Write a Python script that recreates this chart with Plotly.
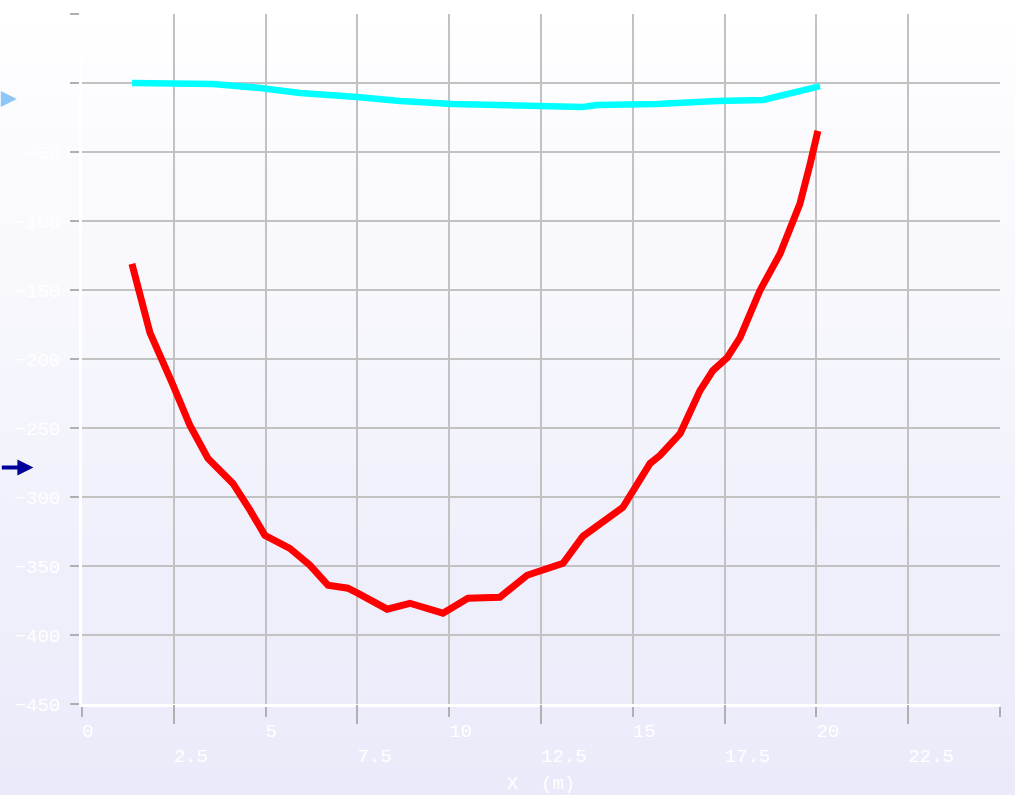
import plotly.graph_objects as go

# ---- data ----
red_x = [1.36, 1.85, 2.45, 2.94, 3.43, 4.11, 4.58, 4.98, 5.66, 6.21, 6.70, 7.24, 7.52, 7.90,
         8.31, 8.93, 9.83, 10.51, 10.92, 11.38, 12.12, 12.55, 13.10, 13.64, 14.11, 14.73,
         15.47, 15.74, 16.29, 16.83, 17.18, 17.57, 17.92, 18.46, 19.01, 19.55, 19.83, 20.04]
red_y = [-131.0, -180.9, -217.1, -248.2, -272.1, -290.2, -309.7, -327.8, -337.2, -349.5,
         -364.0, -366.1, -369.8, -375.5, -381.3, -377.0, -384.2, -373.4, -373.4, -372.7,
         -356.7, -352.4, -348.0, -328.5, -319.1, -307.5, -275.7, -269.9, -254.0, -222.9,
         -208.4, -199.0, -184.5, -150.5, -123.7, -87.6, -58.6, -34.7]

cyan_x = [1.36, 2.45, 3.57, 4.85, 5.94, 7.49, 8.66, 10.10, 11.74, 13.64, 14.02, 15.66,
          17.29, 18.55, 20.10]
cyan_y = [0.0, -0.7, -0.7, -3.6, -7.2, -10.1, -13.0, -15.2, -15.9, -17.4, -15.9, -15.2,
          -13.0, -12.3, -2.2]

x_ticks = [0, 2.5, 5, 7.5, 10, 12.5, 15, 17.5, 20, 22.5, 25]
x_tick_labels = ["0", "2.5", "5", "7.5", "10", "12.5", "15", "17.5", "20", "22.5", "25"]
y_ticks = [50, 0, -50, -100, -150, -200, -250, -300, -350, -400, -450]
arrow_levels = [-11.6, -278.6]
arrow_colors = ["#8ec6f8", "#00009a"]

NB = "\u00a0"
def left_aligned(lbl, second_row):
    txt = NB * len(lbl) + lbl
    return ("<br>" + txt) if second_row else txt

x_text = [left_aligned(l, i % 2 == 1) for i, l in enumerate(x_tick_labels)]

FONT = "Liberation Mono, Courier New, monospace"

fig = go.Figure()
fig.add_trace(go.Scatter(x=cyan_x, y=cyan_y, mode="lines",
                         line=dict(color="#00ffff", width=6.5), showlegend=False,
                         hoverinfo="skip"))
fig.add_trace(go.Scatter(x=red_x, y=red_y, mode="lines",
                         line=dict(color="#ff0000", width=7), showlegend=False,
                         hoverinfo="skip"))
fig.add_trace(go.Scatter(x=[], y=[], xaxis="x2", showlegend=False))

# background gradient bands
n = 24
top = (255, 255, 255)
bot = (234, 234, 250)
shapes = []
for i in range(n):
    t = i / (n - 1)
    c = tuple(round(top[k] + (bot[k] - top[k]) * t) for k in range(3))
    y1 = 1.03 - i * (1.17 / n)
    y0 = y1 - 1.17 / n - 0.002
    shapes.append(dict(type="rect", xref="paper", yref="paper",
                       x0=-0.1, x1=1.02, y0=y0, y1=y1,
                       fillcolor="rgb(%d,%d,%d)" % c, line=dict(width=0),
                       layer="below"))

annotations = [
    dict(x=-0.071, y=arrow_levels[0], xref="paper", yref="y", text="",
         showarrow=True, arrowhead=2, arrowsize=0.8, arrowwidth=4,
         arrowcolor=arrow_colors[0], ax=-19, ay=0),
    dict(x=-0.053, y=arrow_levels[1], xref="paper", yref="y", text="",
         showarrow=True, arrowhead=2, arrowsize=0.8, arrowwidth=4,
         arrowcolor=arrow_colors[1], ax=-33, ay=0),
]

fig.update_layout(
    width=1015, height=795,
    margin=dict(l=82, r=15, t=14, b=91, autoexpand=False),
    paper_bgcolor="#f6f6fd",
    plot_bgcolor="rgba(0,0,0,0)",
    shapes=shapes,
    annotations=annotations,
    xaxis=dict(range=[0, 25], tickvals=x_ticks, ticktext=x_text, automargin=False,
               showgrid=True, gridcolor="#c2c2c2", gridwidth=2,
               zeroline=False, showline=True, linecolor="#ffffff", linewidth=3,
               ticks="outside", ticklen=10, tickwidth=2, tickcolor="#b0b0b0",
               ticklabelstandoff=-3,
               tickfont=dict(family=FONT, size=19, color="#ffffff"),
               tickangle=0,
               title=dict(text="X" + NB + NB + "(m)",
                          font=dict(family=FONT, size=19, color="#ffffff"),
                          standoff=16)),
    xaxis2=dict(range=[0, 25], overlaying="x", matches="x", side="bottom", anchor="y",
                tickvals=x_ticks[1::2], showticklabels=False, showgrid=False,
                zeroline=False, showline=False, automargin=False,
                ticks="outside", ticklen=19, tickwidth=2, tickcolor="#b0b0b0"),
    yaxis=dict(range=[-450, 50], tickvals=y_ticks, automargin=False,
               showgrid=True, gridcolor="#c2c2c2", gridwidth=2,
               zeroline=False, showline=True, linecolor="#ffffff", linewidth=3,
               ticks="outside", ticklen=9, tickwidth=2, tickcolor="#b0b0b0",
               ticklabelstandoff=6,
               tickfont=dict(family=FONT, size=19, color="#ffffff")),
)

fig.write_html("out.html", config={"displayModeBar": False},
               post_script="document.body.style.margin='0';")
